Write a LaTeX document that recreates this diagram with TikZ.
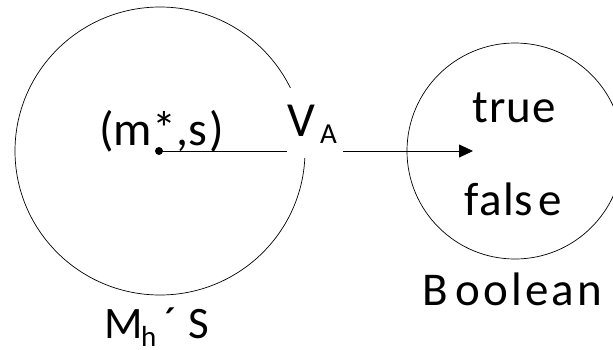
\documentclass[tikz,border=0pt]{standalone}
\usepackage{fontspec}
\setmainfont{Carlito}
\usetikzlibrary{shapes.geometric,arrows.meta}
\begin{document}
\begin{tikzpicture}[x=1pt,y=-1pt,
  lbl/.style={inner sep=0pt, font=\fontsize{47}{54}\selectfont, anchor=base},
  sublbl/.style={inner sep=0pt, font=\fontsize{29}{33}\selectfont, anchor=base west},
  ring/.style={draw, line width=0.7pt, inner sep=0pt}]
\useasboundingbox (0,0) rectangle (613,349);
\node[ring, ellipse, minimum width=290pt, minimum height=288pt] (M) at (160,151) {};
\node[ring, circle, minimum size=216pt] (B) at (515,151) {};
\node[circle, fill, inner sep=0pt, minimum size=8pt] (c) at (159,151) {};
\coordinate (tip) at (473,151);
\draw[line width=0.8pt, -{Triangle[length=14pt,width=13pt]}] (c.center) -- (tip);
\node[fill=white, inner sep=0pt, minimum width=56pt, minimum height=70pt] (va) at (315,123) {};
\node[lbl, anchor=base west, font=\fontsize{49}{56}\selectfont] (V) at (287,136) {V};
\node[sublbl] (A) at (320,143) {A};
\node[lbl, font=\fontsize{48}{55}\selectfont] (ms) at (162,145) {(m*,s\kern3pt)};
\node[lbl] (t) at (514,122) {t\kern1pt r\kern1pt u\kern1pt e};
\node[lbl] (f) at (513,215) {f\kern1pt a\kern1pt l\kern1pt s\kern5pt e};
\node[lbl] (bo) at (512,305) {B\kern8pt o\kern3pt o\kern3pt l\kern3pt e\kern3pt a\kern3pt n};
\node[lbl, anchor=base west, font=\fontsize{45}{52}\selectfont] (Mh) at (104,338) {M};
\node[sublbl, text depth=0pt] (h) at (141,346) {h};
\node[lbl, anchor=base west, font=\fontsize{45}{52}\selectfont] (ac) at (164,338) {´};
\node[lbl, anchor=base west, font=\fontsize{45}{52}\selectfont] (S) at (188,338) {S};
\end{tikzpicture}
\end{document}
